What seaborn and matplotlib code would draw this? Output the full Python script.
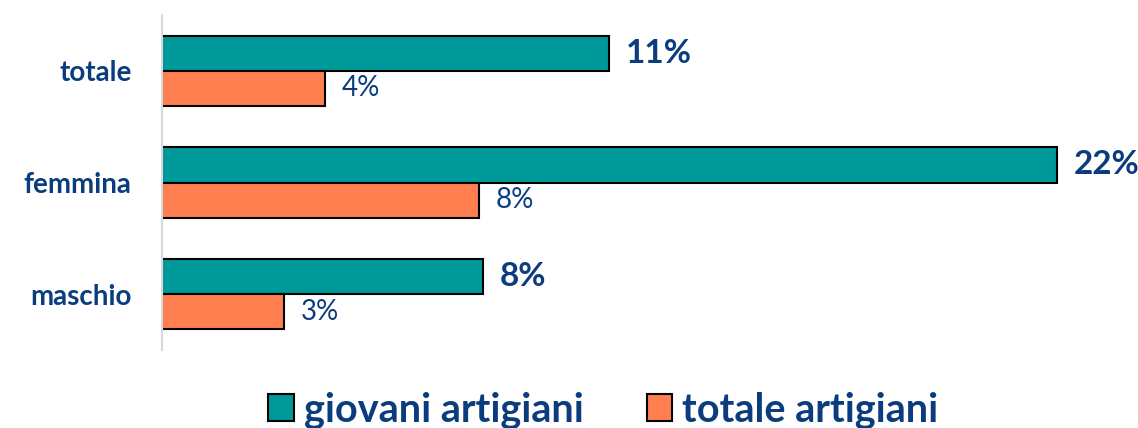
import matplotlib
matplotlib.use("Agg")
import matplotlib.pyplot as plt
import seaborn as sns
import pandas as pd

categories = ["totale", "femmina", "maschio"]
giovani = [11.0, 22.0, 7.9]
totale = [4.0, 7.8, 3.0]
series_names = ["giovani artigiani", "totale artigiani"]

TEAL = "#009999"
ORANGE = "#FF7F50"
NAVY = "#0B3C7D"

df = pd.DataFrame({
    "categoria": categories * 2,
    "valore": giovani + totale,
    "serie": [series_names[0]] * 3 + [series_names[1]] * 3,
})

sns.set_style("white")
plt.rcParams["font.family"] = ["Lato", "DejaVu Sans"]

fig = plt.figure(figsize=(11.38, 4.28), dpi=100)
ax = fig.add_axes([162 / 1138, 1 - 350 / 428, 1 - 162 / 1138, 335 / 428])

sns.barplot(data=df, y="categoria", x="valore", hue="serie", order=categories,
            hue_order=series_names, palette=[TEAL, ORANGE], width=0.63,
            saturation=1, edgecolor="black", linewidth=1.5, orient="h", ax=ax)

ax.set_xlim(0, 24)
ax.set_ylim(2.5, -0.5)
ax.set_xlabel("")
ax.set_ylabel("")
ax.set_xticks([])
ax.tick_params(axis="y", length=0, pad=22)
for lbl in ax.get_yticklabels():
    lbl.set_fontsize(20)
    lbl.set_fontweight("bold")
    lbl.set_color(NAVY)

for s in ["top", "right", "bottom"]:
    ax.spines[s].set_visible(False)
ax.spines["left"].set_color("#D9D9D9")
ax.spines["left"].set_linewidth(1.5)

# value labels
for i, bars in enumerate(ax.containers):
    bold = i == 0
    ax.bar_label(bars, labels=[f"{v:.0f}%" for v in bars.datavalues],
                 padding=12, color=NAVY, fontsize=24 if bold else 20,
                 fontweight="bold" if bold else "normal")

handles, labels = ax.get_legend_handles_labels()
ax.get_legend().remove()
leg = fig.legend(handles, labels, loc="lower center", ncol=2, frameon=False,
                 bbox_to_anchor=(0.53, -0.085), handlelength=0.65, handleheight=0.65,
                 handletextpad=0.25, columnspacing=1.6,
                 prop={"size": 28.5, "weight": "bold"})
for t in leg.get_texts():
    t.set_color(NAVY)

fig.savefig("out.png", dpi=100)
